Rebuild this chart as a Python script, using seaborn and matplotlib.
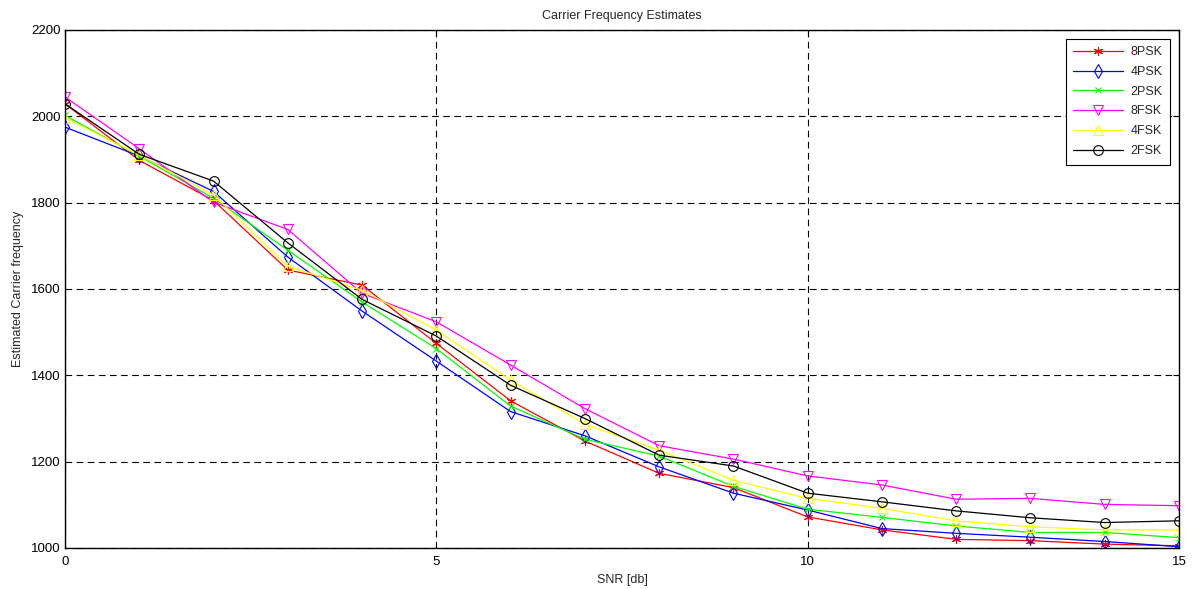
import matplotlib
matplotlib.use("Agg")
import matplotlib.pyplot as plt
import seaborn as sns
import pandas as pd
import numpy as np

snr = list(range(16))
psk8 = [2029, 1898, 1805, 1644, 1609, 1474, 1341, 1248, 1173, 1140, 1072, 1042, 1020, 1017, 1009, 1005]
psk4 = [1975, 1908, 1826, 1674, 1549, 1433, 1316, 1260, 1188, 1127, 1088, 1045, 1034, 1025, 1015, 1003]
psk2 = [2002, 1908, 1810, 1690, 1570, 1462, 1329, 1252, 1213, 1143, 1090, 1071, 1051, 1036, 1036, 1024]
fsk8 = [2045, 1925, 1801, 1738, 1590, 1524, 1424, 1323, 1237, 1206, 1167, 1146, 1113, 1115, 1101, 1098]
fsk4 = [1997, 1910, 1818, 1653, 1597, 1505, 1389, 1287, 1227, 1157, 1115, 1092, 1063, 1049, 1042, 1042]
fsk2 = [2029, 1912, 1850, 1707, 1576, 1491, 1377, 1300, 1215, 1190, 1127, 1107, 1086, 1070, 1059, 1063]

names = ["8PSK", "4PSK", "2PSK", "8FSK", "4FSK", "2FSK"]
series = [psk8, psk4, psk2, fsk8, fsk4, fsk2]
colors = ["#ff0000", "#0000ff", "#00ff00", "#ff00ff", "#ffff00", "#000000"]
markers = [(6, 2, 0), "d", "x", "v", "^", "o"]
msizes = [6.5, 7, 4, 7.5, 7.5, 7]

xticks = [0, 5, 10, 15]
yticks = [1000, 1200, 1400, 1600, 1800, 2000, 2200]

sns.set_style("white")
plt.rcParams['font.family'] = ['Liberation Sans', 'DejaVu Sans']
plt.rcParams['font.size'] = 9

fig = plt.figure(figsize=(11.94, 5.89), dpi=100)
ax = fig.add_axes([65/1194, 1-548/589, (1179-65)/1194, (548-30)/589])

for name, vals, c, m, ms in zip(names, series, colors, markers, msizes):
    df = pd.DataFrame({"SNR": snr, "val": vals})
    sns.lineplot(data=df, x="SNR", y="val", ax=ax, color=c, marker=m,
                 markersize=ms, markerfacecolor="none", markeredgecolor=c,
                 markeredgewidth=0.8, linewidth=0.9, label=name)

ax.set_xlim(0, 15)
ax.set_ylim(1000, 2200)
ax.set_xticks(xticks)
ax.set_yticks(yticks)
ax.grid(True, color="black", linestyle=(0, (6, 4)), linewidth=0.8)
ax.tick_params(direction="in", length=4, width=0.8, colors="black", labelsize=9.5,
               top=True, right=True, pad=3)
ax.tick_params(axis="x", pad=6)
for sp in ax.spines.values():
    sp.set_visible(True)
    sp.set_color("black")
    sp.set_linewidth(1.0)
ax.set_xlabel("SNR [db]", fontsize=9, labelpad=4)
ax.set_ylabel("Estimated Carrier frequency", fontsize=9, labelpad=5)
ax.set_title("Carrier Frequency Estimates", fontsize=9, pad=8)

leg = ax.legend(loc="upper right", fontsize=9, frameon=True, fancybox=False,
                edgecolor="black", framealpha=1, borderaxespad=0.7,
                handlelength=4.0, handletextpad=0.6, labelspacing=0.62,
                borderpad=0.6)
leg.get_frame().set_linewidth(0.8)

fig.savefig("out.png", dpi=100)
